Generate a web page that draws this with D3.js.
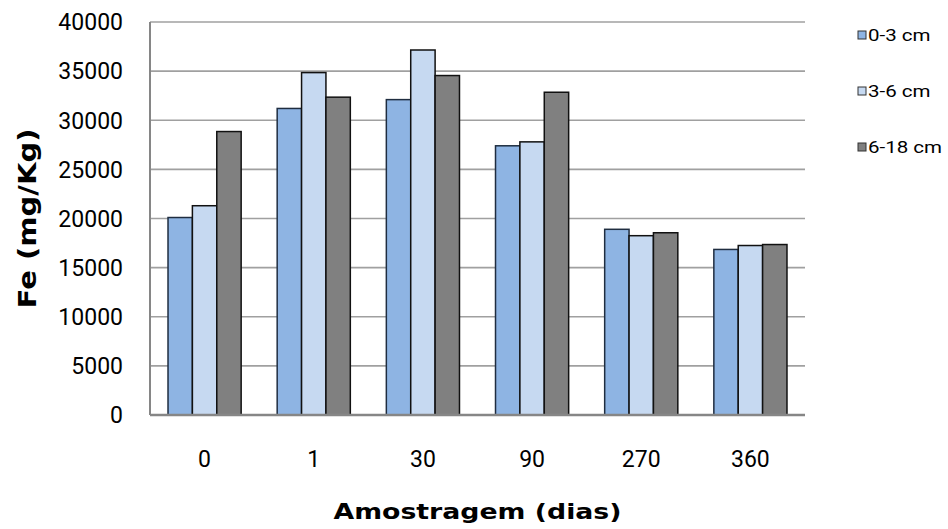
<!DOCTYPE html>
<html>
<head>
<meta charset="utf-8">
<script src="https://cdn.jsdelivr.net/npm/d3@7"></script>
<style>
  body { margin: 0; background: #fff; }
</style>
</head>
<body>
<div id="chart"></div>
<script>
// sampling days
var categories = ["0", "1", "30", "90", "270", "360"];
var seriesNames = ["0-3 cm", "3-6 cm", "6-18 cm"];
var fe_0_3 = [20100, 31200, 32100, 27400, 18900, 16850];
var fe_3_6 = [21300, 34850, 37150, 27800, 18250, 17250];
var fe_6_18 = [28850, 32350, 34550, 32850, 18550, 17350];
var yTicks = [0, 5000, 10000, 15000, 20000, 25000, 30000, 35000, 40000];

var colors = ["#8EB4E3", "#C6D9F1", "#808080"];
var strokes = ["#1f2d40", "#111", "#111"];

var width = 948, height = 529;
var margin = {top: 22, right: 143, bottom: 114, left: 150};

var svg = d3.select("#chart")
  .append("svg")
  .attr("width", width)
  .attr("height", height);

var x = d3.scaleBand()
  .domain(categories)
  .range([margin.left, width - margin.right])
  .paddingInner(0.33)
  .paddingOuter(0.165);

var xs = d3.scaleBand()
  .domain(seriesNames)
  .range([0, x.bandwidth()]);

var y = d3.scaleLinear()
  .domain([0, 40000])
  .range([height - margin.bottom, margin.top]);

// gridlines
svg.append("g")
  .selectAll("line")
  .data(yTicks)
  .enter()
  .append("line")
  .attr("x1", margin.left)
  .attr("x2", width - margin.right)
  .attr("y1", function(d) { return y(d); })
  .attr("y2", function(d) { return y(d); })
  .style("stroke", "#a0a0a0")
  .style("stroke-width", 1.6);

var rows = categories.map(function(c, i) {
  return {cat: c, values: [fe_0_3[i], fe_3_6[i], fe_6_18[i]]};
});

var groups = svg.append("g")
  .selectAll("g")
  .data(rows)
  .enter()
  .append("g")
  .attr("transform", function(d) { return "translate(" + x(d.cat) + ",0)"; });

groups.selectAll("rect")
  .data(function(d) {
    return d.values.map(function(v, k) { return {key: seriesNames[k], k: k, value: v}; });
  })
  .enter()
  .append("rect")
  .attr("x", function(d) { return xs(d.key); })
  .attr("y", function(d) { return y(d.value); })
  .attr("width", xs.bandwidth())
  .attr("height", function(d) { return y(0) - y(d.value); })
  .style("fill", function(d) { return colors[d.k]; })
  .style("stroke", function(d) { return strokes[d.k]; })
  .style("stroke-width", 1.5);

// axes lines
svg.append("line")
  .attr("x1", margin.left).attr("x2", margin.left)
  .attr("y1", y(40000)).attr("y2", y(0))
  .style("stroke", "#868686")
  .style("stroke-width", 2);

svg.append("line")
  .attr("x1", margin.left).attr("x2", width - margin.right)
  .attr("y1", y(0)).attr("y2", y(0))
  .style("stroke", "#868686")
  .style("stroke-width", 2.5);

// tick labels
svg.append("g")
  .selectAll("text")
  .data(yTicks)
  .enter()
  .append("text")
  .attr("x", 123)
  .attr("y", function(d) { return y(d); })
  .attr("dy", "0.36em")
  .attr("text-anchor", "end")
  .style("font-family", "Roboto, 'Liberation Sans', sans-serif")
  .style("font-size", "23px")
  .style("fill", "#000")
  .text(function(d) { return d; });

svg.append("g")
  .selectAll("text")
  .data(categories)
  .enter()
  .append("text")
  .attr("x", function(d) { return x(d) + x.bandwidth() / 2; })
  .attr("y", 467)
  .attr("text-anchor", "middle")
  .style("font-family", "Roboto, 'Liberation Sans', sans-serif")
  .style("font-size", "23px")
  .style("fill", "#000")
  .text(function(d) { return d; });

// axis titles
svg.append("text")
  .attr("x", (margin.left + width - margin.right) / 2)
  .attr("y", 519)
  .attr("text-anchor", "middle")
  .attr("textLength", 288)
  .attr("lengthAdjust", "spacingAndGlyphs")
  .style("font-family", "'DejaVu Sans', sans-serif")
  .style("font-weight", "bold")
  .style("font-size", "22px")
  .text("Amostragem (dias)");

svg.append("text")
  .attr("transform", "translate(36," + (y(40000) + y(0)) / 2 + ") rotate(-90)")
  .attr("text-anchor", "middle")
  .attr("textLength", 180)
  .attr("lengthAdjust", "spacingAndGlyphs")
  .style("font-family", "'DejaVu Sans', sans-serif")
  .style("font-weight", "bold")
  .style("font-size", "25px")
  .text("Fe (mg/Kg)");

// legend
var legend = svg.append("g")
  .selectAll("g")
  .data(seriesNames)
  .enter()
  .append("g")
  .attr("transform", function(d, i) { return "translate(858," + (35 + i * 56) + ")"; });

legend.append("rect")
  .attr("x", 0)
  .attr("y", -4)
  .attr("width", 8)
  .attr("height", 8)
  .style("fill", function(d, i) { return colors[i]; })
  .style("stroke", "#333")
  .style("stroke-width", 1);

legend.append("text")
  .attr("x", 10)
  .attr("y", 0)
  .attr("dy", "0.36em")
  .style("font-family", "Roboto, 'Liberation Sans', sans-serif")
  .style("font-size", "16px")
  .style("fill", "#000")
  .text(function(d) { return d; })
  .attr("textLength", function() { return this.getComputedTextLength() * 1.28; })
  .attr("lengthAdjust", "spacingAndGlyphs");
</script>
</body>
</html>
